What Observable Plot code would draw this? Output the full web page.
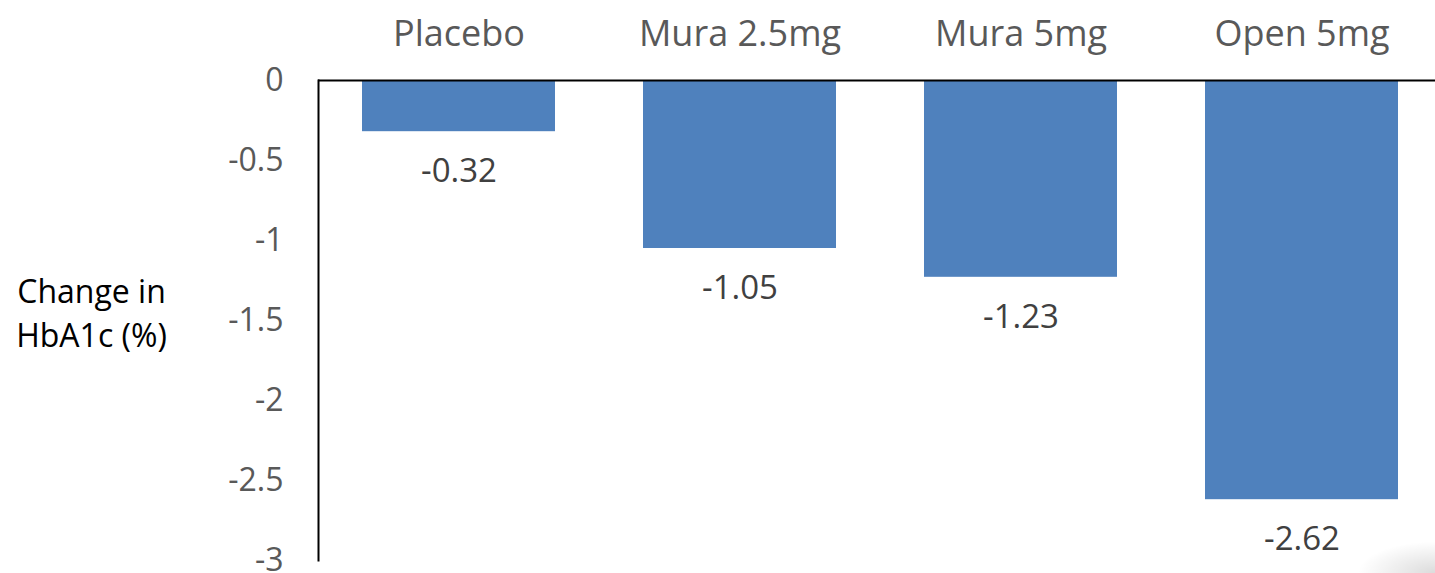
<!DOCTYPE html>
<html>
<head>
<meta charset="utf-8">
<script src="https://cdn.jsdelivr.net/npm/d3@7"></script>
<script src="https://cdn.jsdelivr.net/npm/@observablehq/plot@0.6"></script>
<style>
  html, body { margin: 0; padding: 0; background: #fff; }
  #chart { position: relative; width: 1435px; height: 573px; overflow: hidden; }
  #chart svg { display: block; }
  /* soft page-curl shading in the lower right corner */
  #corner {
    position: absolute; right: 0; bottom: 0; width: 110px; height: 45px;
    background: radial-gradient(ellipse 100% 100% at 100% 100%, rgba(0,0,0,0.14), rgba(0,0,0,0) 70%);
    pointer-events: none;
  }
</style>
</head>
<body>
<div id="chart"><div id="corner"></div></div>
<script>
// Treatment groups and their mean change in HbA1c (%)
const groups = ["Placebo", "Mura 2.5mg", "Mura 5mg", "Open 5mg"];
const changes = [-0.32, -1.05, -1.23, -2.62];
const yTicks = [0, -0.5, -1, -1.5, -2, -2.5, -3];
const yTitle = "Change in\nHbA1c (%)";

const data = groups.map((g, i) => ({group: g, change: changes[i]}));

const font = "'Open Sans', 'Noto Sans', sans-serif";

const chart = Plot.plot({
  width: 1435,
  height: 573,
  marginTop: 80,
  marginBottom: 13,
  marginLeft: 318,
  marginRight: 0,
  style: {fontFamily: font, background: "#fff", overflow: "visible"},
  x: {domain: groups, range: [318, 1443], paddingInner: 0.313, paddingOuter: 0.1565},
  y: {domain: [-3, 0], range: [560, 80]},
  marks: [
    Plot.barY(data, {x: "group", y: "change", fill: "#4F81BD"}),
    Plot.ruleY([0], {stroke: "#000", strokeWidth: 2}),
    Plot.frame({anchor: "left", stroke: "#000", strokeWidth: 2}),
    Plot.axisX({
      anchor: "top", tickSize: 0, tickPadding: 35, label: null,
      fontSize: 36, fill: "#595959"
    }),
    Plot.axisY({
      ticks: yTicks, tickSize: 0, tickPadding: 35, label: null,
      tickFormat: d => String(d), fontSize: 32, fill: "#595959"
    }),
    Plot.text(data, {
      x: "group", y: "change", text: d => String(d.change),
      dy: 40, fontSize: 33, fill: "#404040"
    }),
    Plot.text([yTitle], {
      frameAnchor: "left", dx: -227, dy: -10, textAnchor: "middle",
      lineHeight: 1.38, fontSize: 32, fill: "#000"
    })
  ]
});

document.getElementById("chart").insertBefore(chart, document.getElementById("corner"));
</script>
</body>
</html>
